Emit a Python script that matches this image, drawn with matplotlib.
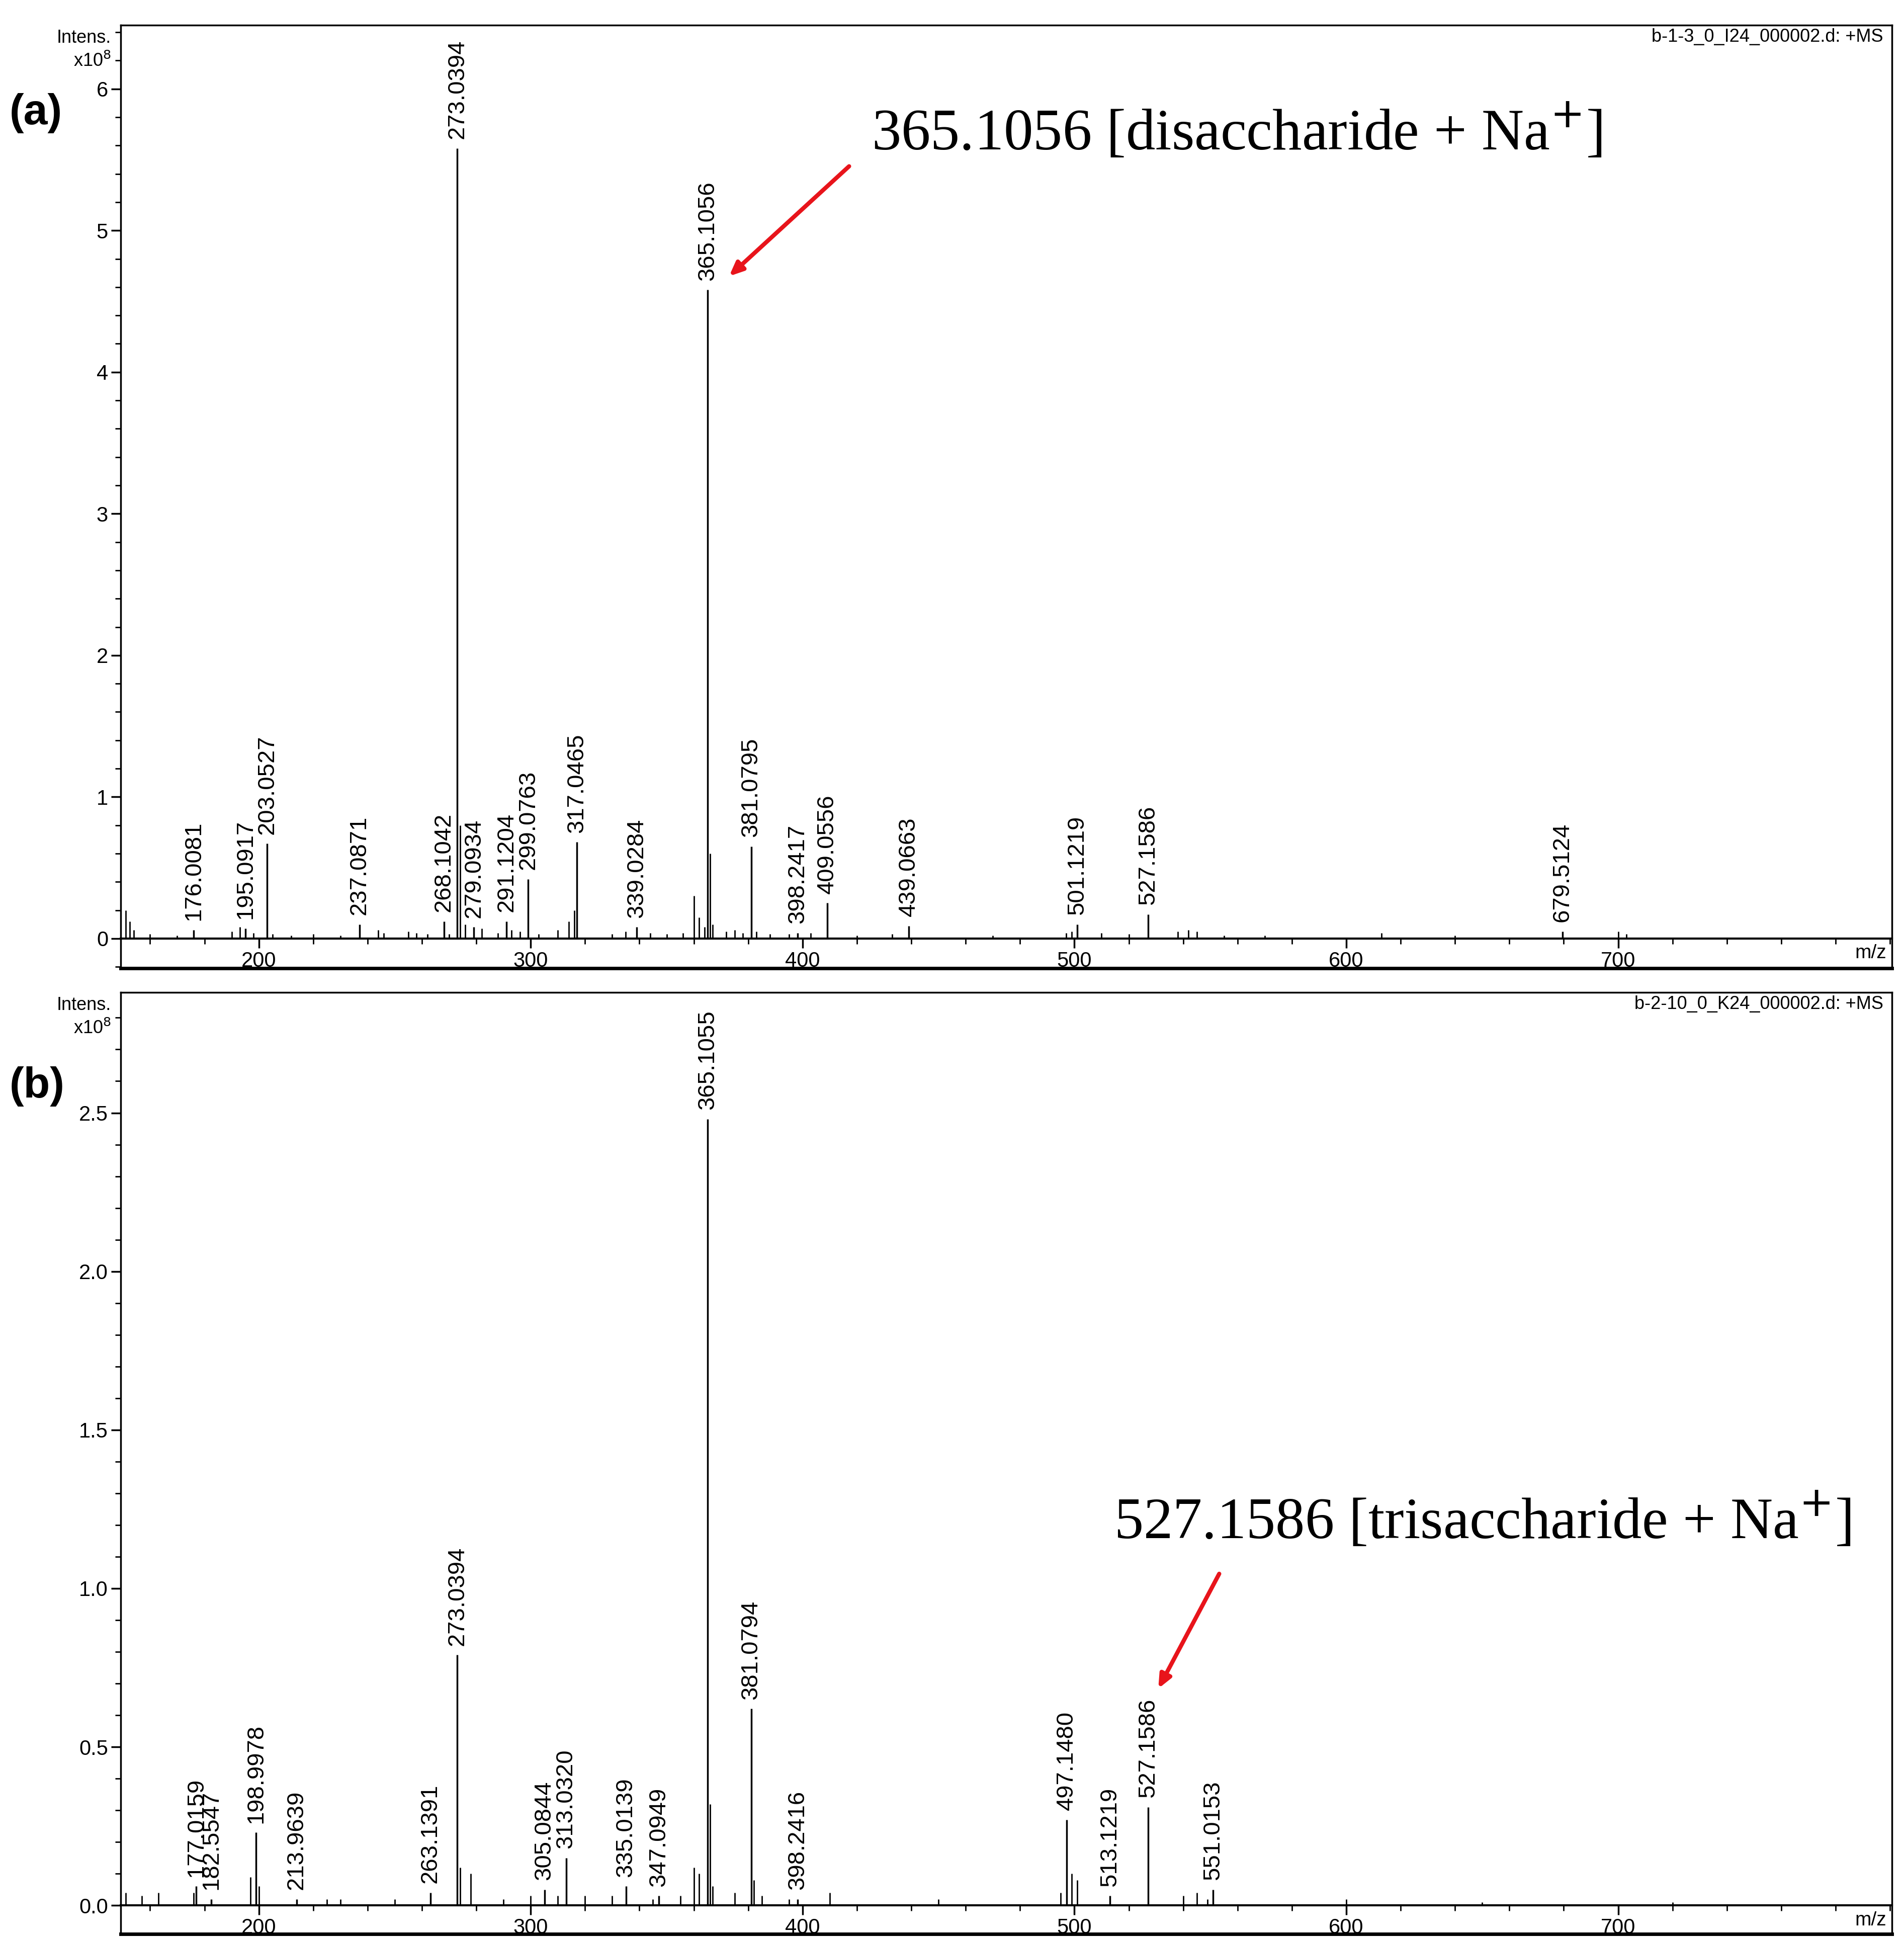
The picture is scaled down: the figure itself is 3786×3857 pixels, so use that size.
import matplotlib
matplotlib.use("Agg")
import matplotlib.pyplot as plt
from matplotlib.ticker import MultipleLocator, FixedLocator

plt.rcParams["font.family"] = ["Liberation Sans", "DejaVu Sans"]

# panel (a): labelled peaks (m/z, intensity x1e8)
a_mz = [176.0081, 195.0917, 203.0527, 237.0871, 268.1042, 273.0394, 279.0934,
        291.1204, 299.0763, 317.0465, 339.0284, 365.1056, 381.0795, 398.2417,
        409.0556, 439.0663, 501.1219, 527.1586, 679.5124]
a_int = [0.06, 0.07, 0.67, 0.10, 0.12, 5.58, 0.08, 0.12, 0.42, 0.68, 0.08,
         4.58, 0.65, 0.04, 0.25, 0.09, 0.10, 0.17, 0.05]
# panel (a): unlabelled peaks
a_mz_small = [151, 152.5, 154, 160, 170, 190, 193, 198, 205, 212, 220, 230, 244, 246,
              255, 258, 262, 270, 274, 276, 282, 288, 293, 296, 303, 310, 314, 316,
              330, 335, 344, 350, 356, 360, 362, 364, 366, 367, 372, 375, 378, 383,
              388, 395, 403, 420, 433, 470, 497, 499, 510, 520, 538, 542, 545, 555,
              570, 613, 640, 700, 703]
a_int_small = [0.2, 0.12, 0.06, 0.03, 0.02, 0.05, 0.08, 0.04, 0.03, 0.02, 0.03, 0.02,
               0.06, 0.04, 0.05, 0.04, 0.03, 0.03, 0.80, 0.1, 0.07, 0.04, 0.06, 0.05,
               0.03, 0.06, 0.12, 0.2, 0.03, 0.05, 0.04, 0.03, 0.04, 0.3, 0.15, 0.08,
               0.6, 0.1, 0.05, 0.06, 0.04, 0.05, 0.03, 0.03, 0.04, 0.02, 0.03, 0.02,
               0.04, 0.05, 0.04, 0.03, 0.05, 0.06, 0.05, 0.02, 0.02, 0.04, 0.02, 0.05, 0.03]

# panel (b): labelled peaks
b_mz = [177.0159, 182.5547, 198.9978, 213.9639, 263.1391, 273.0394, 305.0844,
        313.0320, 335.0139, 347.0949, 365.1055, 381.0794, 398.2416, 497.1480,
        513.1219, 527.1586, 551.0153]
b_int = [0.06, 0.02, 0.23, 0.02, 0.04, 0.79, 0.05, 0.15, 0.06, 0.03, 2.48, 0.62,
         0.02, 0.27, 0.03, 0.31, 0.05]
b_mz_small = [151, 157, 163, 176, 197, 200, 225, 230, 250, 274, 278, 290, 300,
              310, 320, 330, 345, 355, 360, 362, 366, 367, 375, 382, 385, 395,
              410, 450, 495, 499, 501, 540, 545, 549, 600, 650, 720]
b_int_small = [0.04, 0.03, 0.04, 0.04, 0.09, 0.06, 0.02, 0.02, 0.02, 0.12, 0.1, 0.02,
               0.03, 0.03, 0.03, 0.03, 0.02, 0.03, 0.12, 0.1, 0.32, 0.06, 0.04, 0.08,
               0.03, 0.02, 0.04, 0.02, 0.04, 0.1, 0.08, 0.03, 0.04, 0.02, 0.02, 0.01, 0.01]

x_major = [200, 300, 400, 500, 600, 700]

W, H = 3786, 3857
fig = plt.figure(figsize=(W / 100, H / 100), dpi=100)


def panel(rect, mz, inten, mz_s, int_s, ylim, major, minor, header, tag, tag_y,
          ann_text, ann_xy, ann_tail, text_xy):
    ax = fig.add_axes(rect)
    ax.set_xlim(149.2, 800.7)
    span = ylim[1] - ylim[0]
    ax.vlines(mz_s, 0, int_s, color="black", lw=2)
    ax.vlines(mz, 0, inten, color="black", lw=2.5)
    for m, h in zip(mz, inten):
        ax.text(m, h + 0.01 * span, f"{m:.4f}", rotation=90,
                ha="center", va="bottom", fontsize=34)
    ax.spines["bottom"].set_position(("data", 0))
    ax.spines["bottom"].set_linewidth(3)
    for s in ("left", "top", "right"):
        ax.spines[s].set_linewidth(2.5)
    ax.plot([0, 1], [0, 0], transform=ax.transAxes, color="black", lw=5, clip_on=False)
    ax.xaxis.set_major_locator(FixedLocator(x_major))
    ax.xaxis.set_minor_locator(MultipleLocator(20))
    ax.yaxis.set_major_locator(MultipleLocator(major))
    ax.yaxis.set_minor_locator(MultipleLocator(minor))
    ax.set_ylim(*ylim)
    ax.tick_params(which="major", length=14, width=2.5, labelsize=30, pad=4)
    ax.tick_params(which="minor", length=8, width=2)
    ax.text(0.995, 0.997, header, transform=ax.transAxes, ha="right", va="top", fontsize=26)
    ax.text(0.997, (-ylim[0]) / span - 0.006, "m/z", transform=ax.transAxes,
            ha="right", va="top", fontsize=28)
    top_y = rect[1] + rect[3]
    fig.text(rect[0] - 0.005, top_y - 0.002, "Intens.", ha="right", va="top", fontsize=26)
    fig.text(rect[0] - 0.005, top_y - 0.014, r"x10$^8$", ha="right", va="top", fontsize=26)
    fig.text(0.005, tag_y, tag, ha="left", va="center", fontsize=62, fontweight="bold")
    ax.annotate("", xy=ann_xy, xytext=ann_tail,
                arrowprops=dict(arrowstyle="-|>,head_length=1.6,head_width=0.7",
                                color="#e8141b", lw=6))
    ax.text(*text_xy, ann_text, ha="left", va="center", fontsize=84,
            family=["Liberation Serif", "DejaVu Serif"])
    return ax


panel([240 / W, 1 - 1925 / H, (3762 - 240) / W, (1925 - 50) / H],
      a_mz, a_int, a_mz_small, a_int_small, (-0.21, 6.45), 1, 0.2,
      "b-1-3_0_I24_000002.d: +MS", "(a)", 1 - 225 / H,
      "365.1056 [disaccharide + Na$^{+}$]", (372.6, 4.67), (417.5, 5.46), (425.3, 5.69))

panel([240 / W, 1 - 3845 / H, (3762 - 240) / W, (3845 - 1973) / H],
      b_mz, b_int, b_mz_small, b_int_small, (-0.09, 2.88), 0.5, 0.1,
      "b-2-10_0_K24_000002.d: +MS", "(b)", 1 - 2160 / H,
      "527.1586 [trisaccharide + Na$^{+}$]", (530.6, 0.68), (553.5, 1.05), (514.6, 1.21))

fig.savefig("out.png", dpi=100, facecolor="white")
